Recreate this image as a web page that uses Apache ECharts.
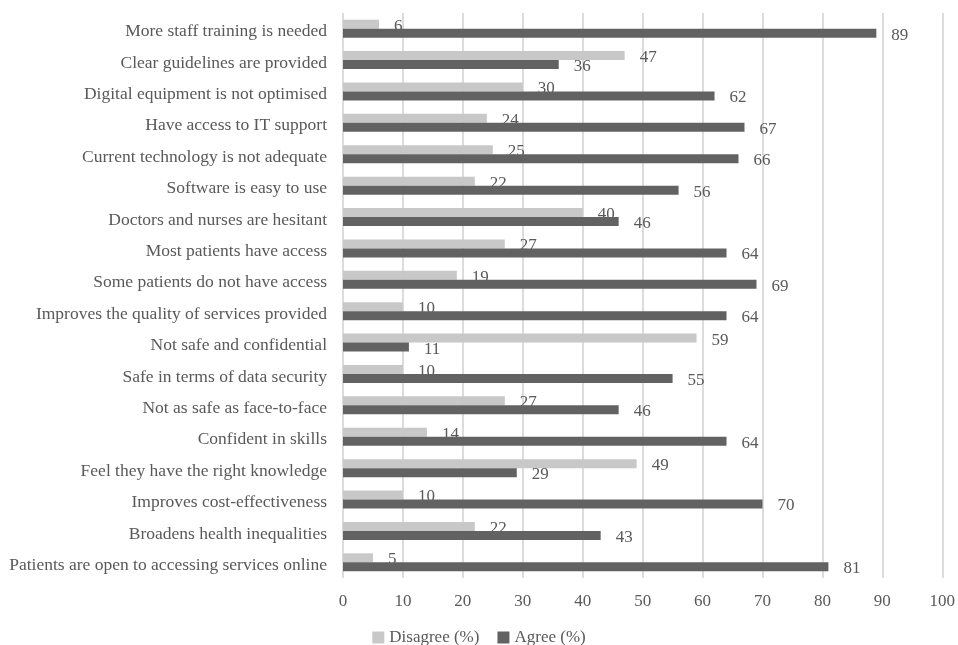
<!DOCTYPE html>
<html>
<head>
<meta charset="utf-8">
<script src="https://cdn.jsdelivr.net/npm/echarts@6/dist/echarts.min.js"></script>
<style>
  html, body { margin: 0; padding: 0; background: #fff; }
  #chart { width: 958px; height: 645px; }
</style>
</head>
<body>
<div id="chart"></div>
<script>
const categories = [
  'More staff training is needed',
  'Clear guidelines are provided',
  'Digital equipment is not optimised',
  'Have access to IT support',
  'Current technology is not adequate',
  'Software is easy to use',
  'Doctors and nurses are hesitant',
  'Most patients have access',
  'Some patients do not have access',
  'Improves the quality of services provided',
  'Not safe and confidential',
  'Safe in terms of data security',
  'Not as safe as face-to-face',
  'Confident in skills',
  'Feel they have the right knowledge',
  'Improves cost-effectiveness',
  'Broadens health inequalities',
  'Patients are open to accessing services online'
]
const disagree = [6, 47, 30, 24, 25, 22, 40, 27, 19, 10, 59, 10, 27, 14, 49, 10, 22, 5]
const agree = [89, 36, 62, 67, 66, 56, 46, 64, 69, 64, 11, 55, 46, 64, 29, 70, 43, 81]
const xTicks = { min: 0, max: 100, interval: 10 }

const font = "'Liberation Serif', 'DejaVu Serif', serif"
const textColor = '#595959'

const chart = echarts.init(document.getElementById('chart'))

const label = {
  show: true,
  position: 'right',
  distance: 15,
  offset: [0, 2],
  fontFamily: font,
  fontSize: 17,
  color: textColor
}

chart.setOption({
  animation: false,
  textStyle: { fontFamily: font },
  grid: { left: 343, right: 13, top: 13, bottom: 67, containLabel: false },
  legend: {
    left: 'center',
    top: 624,
    itemWidth: 12,
    itemHeight: 12,
    itemGap: 18,
    icon: 'rect',
    textStyle: { fontFamily: font, fontSize: 17, color: textColor }
  },
  xAxis: {
    type: 'value',
    min: xTicks.min,
    max: xTicks.max,
    interval: xTicks.interval,
    axisLine: { show: false },
    axisTick: { show: false },
    axisLabel: { margin: 15, fontFamily: font, fontSize: 17, color: textColor },
    splitLine: { show: true, lineStyle: { color: '#dcdcdc', width: 2 } }
  },
  yAxis: {
    type: 'category',
    inverse: true,
    data: categories,
    axisLine: { show: false },
    axisTick: { show: false },
    axisLabel: {
      margin: 16,
      formatter: (v) => '{c|' + v + '}',
      rich: {
        c: { padding: [6, 0, 0, 0], fontFamily: font, fontSize: 17.5, color: textColor }
      }
    }
  },
  series: [
    {
      name: 'Disagree (%)',
      type: 'bar',
      data: disagree,
      barWidth: 9,
      barGap: '0%',
      itemStyle: { color: '#c8c8c8' },
      label: label,
      z: 2
    },
    {
      name: 'Agree (%)',
      type: 'bar',
      data: agree,
      barWidth: 9,
      barGap: '0%',
      itemStyle: { color: '#626262' },
      label: label,
      z: 3
    }
  ]
})
</script>
</body>
</html>
